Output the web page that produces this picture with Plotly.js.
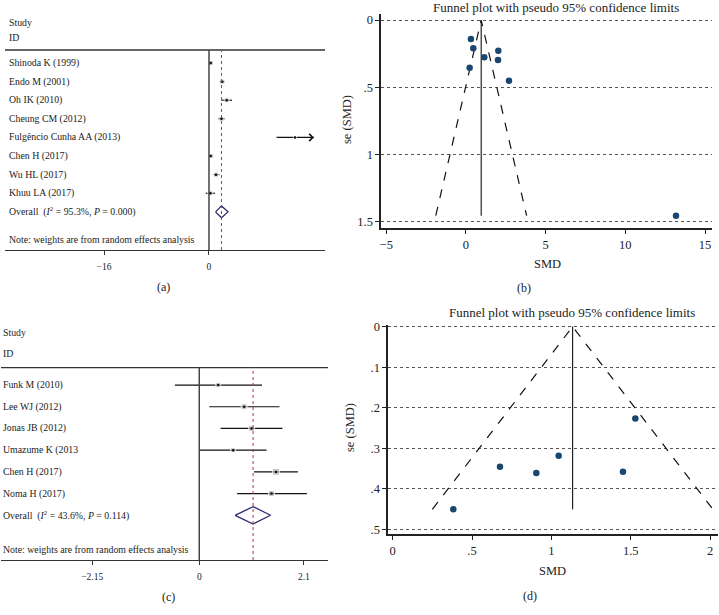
<!DOCTYPE html>
<html>
<head>
<meta charset="utf-8">
<script src="https://cdn.plot.ly/plotly-3.0.1.min.js"></script>
<style>
  body { margin: 0; background: #fff; }
  #graph { width: 719px; height: 615px; }
</style>
</head>
<body>
<div id="graph"></div>
<script>
// ---- panel (a): forest plot ----
var studiesA = ['Shinoda K (1999)', 'Endo M (2001)', 'Oh IK (2010)', 'Cheung CM (2012)',
                'Fulgêncio Cunha AA (2013)', 'Chen H (2017)', 'Wu HL (2017)', 'Khuu LA (2017)'];
var esA = [0.26, 2.0, 2.7, 1.9, 13.1, 0.26, 1.07, 0.2];
var loA = [0.0, 1.6, 1.9, 1.4, 10.3, 0.0, 0.6, -0.5];
var hiA = [0.5, 2.4, 3.5, 2.4, 16.4, 0.55, 1.6, 0.9];
var wtA = [5, 5, 5, 5, 3, 5, 5, 5];
var overallA = {es: 1.9, lo: 1.0, hi: 2.9, text: 'Overall&nbsp; (<i>I</i><sup>2</sup> = 95.3%, <i>P</i> = 0.000)'};
var limitA = 16;
var ticksA = [-16, 0];
var tickTextA = ['−16', '0'];

// ---- panel (b): funnel plot ----
var smdB = [0.31, 0.46, 1.15, 2.03, 2.01, 0.23, 2.70, 13.18];
var seB = [0.141, 0.21, 0.277, 0.228, 0.297, 0.354, 0.451, 1.454];
var xTicksB = [-5, 0, 5, 10, 15];
var xTickTextB = ['−5', '0', '5', '10', '15'];
var yTicksB = [0, 0.5, 1, 1.5];
var yTickTextB = ['0', '.5', '1', '1.5'];

// ---- panel (c): forest plot ----
var studiesC = ['Funk M (2010)', 'Lee WJ (2012)', 'Jonas JB (2012)', 'Umazume K (2013',
                'Chen H (2017)', 'Noma H (2017)'];
var esC = [0.38, 0.90, 1.05, 0.68, 1.54, 1.45];
var loC = [-0.49, 0.20, 0.43, 0.01, 1.10, 0.76];
var hiC = [1.26, 1.61, 1.67, 1.35, 1.98, 2.16];
var wtC = [5, 6, 6, 5, 7, 6];
var overallC = {es: 1.08, lo: 0.72, hi: 1.43, text: 'Overall&nbsp; (<i>I</i><sup>2</sup> = 43.6%, <i>P</i> = 0.114)'};
var limitC = 2.5;
var ticksC = [-2.15, 0, 2.1];
var tickTextC = ['−2.15', '0', '2.1'];

// ---- panel (d): funnel plot ----
var smdD = [1.529, 1.046, 0.676, 0.905, 1.451, 0.382];
var seD = [0.227, 0.3185, 0.346, 0.361, 0.358, 0.451];
var xTicksD = [0, 0.5, 1, 1.5, 2];
var xTickTextD = ['0', '.5', '1', '1.5', '2'];
var yTicksD = [0, 0.1, 0.2, 0.3, 0.4, 0.5];
var yTickTextD = ['0', '.1', '.2', '.3', '.4', '.5'];

var W = 719, H = 615;
function px(x) { return x / W; }
function py(y) { return 1 - y / H; }

var FONT = 'Liberation Serif, Times New Roman, serif';
var INK = '#222';
var data = [];
var shapes = [];
var annotations = [];

function forest(xa, ya, studies, es, lo, hi, wt, overall, limit, halfH, labelX) {
    var rows = studies.map(function (s, i) { return i; });
    var top = hi.map(function (v) { return Math.min(v, limit); });
    data.push({
        x: es, y: rows, xaxis: xa, yaxis: ya, type: 'scatter', mode: 'markers',
        marker: {symbol: 'square', size: wt, color: '#b5b5b5'},
        error_x: {type: 'data', symmetric: false,
                  array: top.map(function (v, i) { return v - es[i]; }),
                  arrayminus: lo.map(function (v, i) { return es[i] - v; }),
                  width: 0, thickness: 1.2, color: '#111'},
        hoverinfo: 'skip'
    });
    data.push({
        x: es, y: rows, xaxis: xa, yaxis: ya, type: 'scatter', mode: 'markers',
        marker: {symbol: 'circle', size: 2.5, color: '#111'}, hoverinfo: 'skip'
    });
    var r = studies.length;
    data.push({
        x: [overall.lo, overall.es, overall.hi, overall.es, overall.lo],
        y: [r, r - halfH, r, r + halfH, r],
        xaxis: xa, yaxis: ya, type: 'scatter', mode: 'lines',
        line: {color: '#2e2a70', width: 1.3}, hoverinfo: 'skip'
    });
    // CI running past the axis limit gets an arrow head
    hi.forEach(function (v, i) {
        if (v > limit) {
            annotations.push({xref: xa, yref: ya, x: limit, y: i, ax: -10, ay: 0,
                text: '', showarrow: true, arrowhead: 4, arrowsize: 1.3, arrowwidth: 1.1,
                arrowcolor: '#111', standoff: 0});
        }
    });
    var yref = ya;
    studies.forEach(function (s, i) {
        annotations.push({xref: 'paper', yref: yref, x: labelX, y: i, text: s,
            xanchor: 'left', yanchor: 'middle', showarrow: false, font: {size: 9.8}});
    });
    annotations.push({xref: 'paper', yref: yref, x: labelX, y: r, text: overall.text,
        xanchor: 'left', yanchor: 'middle', showarrow: false, font: {size: 9.8}});
    var xd = xa + ' domain', yd = ya + ' domain';
    shapes.push({type: 'line', xref: xd, yref: yd, x0: 0, x1: 1, y0: 1, y1: 1,
        line: {color: '#333', width: 1.3}});
    shapes.push({type: 'line', xref: xa, yref: yd, x0: 0, x1: 0, y0: 0, y1: 1,
        line: {color: '#444', width: 1.5}});
    shapes.push({type: 'line', xref: xa, yref: yd, x0: overall.es, x1: overall.es, y0: 0, y1: 1,
        line: {color: '#b03a48', width: 1, dash: 'dot'}});
}

function funnel(xa, ya, smd, se) {
    var sw = 0, swx = 0;
    smd.forEach(function (v, i) { var w = 1 / (se[i] * se[i]); sw += w; swx += w * v; });
    var centre = swx / sw;
    var maxSe = Math.max.apply(null, se);
    data.push({
        x: [centre - 1.96 * maxSe, centre, centre + 1.96 * maxSe], y: [maxSe, 0, maxSe],
        xaxis: xa, yaxis: ya, type: 'scatter', mode: 'lines',
        line: {color: '#111', width: 1.2, dash: 'dash'}, hoverinfo: 'skip'
    });
    data.push({
        x: [centre, centre], y: [0, maxSe], xaxis: xa, yaxis: ya, type: 'scatter', mode: 'lines',
        line: {color: '#111', width: 1.1}, hoverinfo: 'skip'
    });
    data.push({
        x: smd, y: se, xaxis: xa, yaxis: ya, type: 'scatter', mode: 'markers',
        marker: {color: '#1a476f', size: 6.5}, hoverinfo: 'skip'
    });
}

forest('x', 'y', studiesA, esA, loA, hiA, wtA, overallA, limitA, 0.32, px(6.5));
funnel('x2', 'y2', smdB, seB);
forest('x3', 'y3', studiesC, esC, loC, hiC, wtC, overallC, limitC, 0.40, px(1));
funnel('x4', 'y4', smdD, seD);

function note(ya, y, x) {
    annotations.push({xref: 'paper', yref: ya, x: x, y: y, text: 'Note: weights are from random effects analysis',
        xanchor: 'left', yanchor: 'middle', showarrow: false, font: {size: 9.8}});
}
note('y', 9.5, px(6.5));
note('y3', 7.56, px(1));

function plain(x, y, text, size, extra) {
    var a = {xref: 'paper', yref: 'paper', x: px(x), y: py(y), text: text,
        showarrow: false, xanchor: 'center', yanchor: 'middle', font: {size: size}};
    for (var k in extra) a[k] = extra[k];
    annotations.push(a);
}
plain(6.5, 23, 'Study', 9.8, {xanchor: 'left'});
plain(6.5, 37, 'ID', 9.8, {xanchor: 'left'});
plain(1, 332.7, 'Study', 9.8, {xanchor: 'left'});
plain(1, 353.3, 'ID', 9.8, {xanchor: 'left'});
plain(556, 7.5, 'Funnel plot with pseudo 95% confidence limits', 13);
plain(572, 312, 'Funnel plot with pseudo 95% confidence limits', 13);
plain(547, 263.5, 'SMD', 12.5);
plain(552, 570.5, 'SMD', 12.5);
plain(347, 120, 'se (SMD)', 12.5, {textangle: -90});
plain(350, 428, 'se (SMD)', 12.5, {textangle: -90});
plain(163, 287, '(a)', 12);
plain(524, 287.5, '(b)', 12);
plain(168, 596.5, '(c)', 12);
plain(530, 595.5, '(d)', 12);

function forestX(dom, range, vals, text) {
    return {domain: dom, range: range, showline: true, linecolor: '#333', linewidth: 1.3,
        ticks: 'outside', ticklen: 4, tickcolor: '#333', tickvals: vals, ticktext: text,
        showgrid: false, zeroline: false, tickfont: {size: 9.5}, ticklabelstandoff: 3};
}
function funnelX(dom, range, vals, text) {
    return {domain: dom, range: range, showline: true, linecolor: '#222', linewidth: 1.3,
        ticks: 'outside', ticklen: 4, tickcolor: '#222', tickvals: vals, ticktext: text,
        showgrid: false, zeroline: false, tickfont: {size: 12.5}};
}
function funnelY(dom, range, vals, text) {
    return {domain: dom, range: range, showline: true, linecolor: '#222', linewidth: 1.3,
        ticks: 'outside', ticklen: 4, tickcolor: '#222', tickvals: vals, ticktext: text,
        showgrid: true, gridcolor: '#555', gridwidth: 1, griddash: 'dot',
        zeroline: false, tickfont: {size: 12.5}};
}

var layout = {
    width: W, height: H,
    margin: {l: 0, r: 0, t: 0, b: 0},
    paper_bgcolor: '#fff', plot_bgcolor: '#fff',
    showlegend: false,
    font: {family: FONT, color: INK},
    xaxis: Object.assign(forestX([px(5), px(325)], [-31.09, 17.68], ticksA, tickTextA), {anchor: 'y'}),
    yaxis: {domain: [py(250), py(50)], range: [10.05, -0.70], visible: false, anchor: 'x'},
    xaxis2: Object.assign(funnelX([px(380.7), px(711.7)], [-5.35, 15.42], xTicksB, xTickTextB), {anchor: 'y2'}),
    yaxis2: Object.assign(funnelY([py(228.3), py(14)], [1.548, -0.045], yTicksB, yTickTextB), {anchor: 'x2'}),
    xaxis3: Object.assign(forestX([px(1), px(328)], [-3.98, 2.584], ticksC, tickTextC), {anchor: 'y3'}),
    yaxis3: {domain: [py(560), py(367.7)], range: [8.06, -0.80], visible: false, anchor: 'x3'},
    xaxis4: Object.assign(funnelX([px(387.7), px(718)], [-0.0315, 2.05], xTicksD, xTickTextD), {anchor: 'y4'}),
    yaxis4: Object.assign(funnelY([py(534.3), py(325)], [0.5126, -0.004], yTicksD, yTickTextD), {anchor: 'x4'}),
    shapes: shapes,
    annotations: annotations
};

Plotly.newPlot('graph', data, layout, {displayModeBar: false, staticPlot: true});
</script>
</body>
</html>
